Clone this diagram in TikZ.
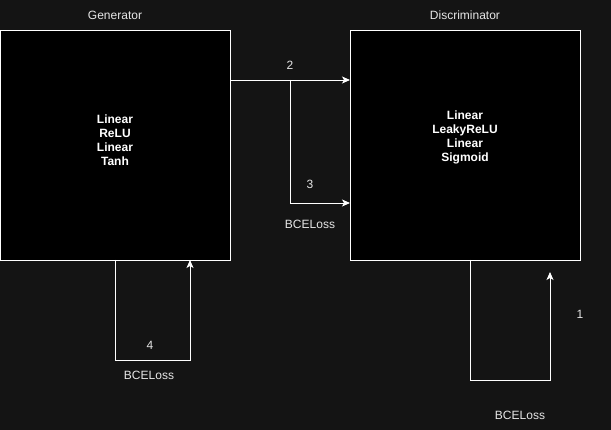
\documentclass[tikz,border=0pt]{standalone}
\usepackage{fontspec}
\setmainfont{Liberation Sans}
\usetikzlibrary{positioning,arrows.meta}
\definecolor{bg}{HTML}{141414}
\definecolor{txt}{HTML}{E6E6E6}
\tikzset{
  netbox/.style={rectangle, draw=white, fill=black, line width=0.9pt, minimum width=230pt, minimum height=230pt, inner sep=0pt, font=\fontsize{12}{14}\selectfont\bfseries, text=white, align=center},
  lbl/.style={text=txt, font=\fontsize{12}{14}\selectfont, inner sep=1pt},
  fwd/.style={draw=white, line width=0.9pt, -{Stealth[length=8pt, width=7pt, inset=2pt]}},
}

\begin{document}
\begin{tikzpicture}[x=1pt, y=-1pt]
  \fill[bg] (0,0) rectangle (611,430);
  \useasboundingbox (0,0) rectangle (611,430);

  % the two networks
  \node[netbox] (gen) at (115,145) {\raisebox{0pt}[0pt][0pt]{\begin{tabular}{@{}c@{}}Linear\\ReLU\\Linear\\Tanh\end{tabular}}};
  \node[netbox] (disc) at (465,145) {\raisebox{4.5pt}[0pt][0pt]{\begin{tabular}{@{}c@{}}Linear\\LeakyReLU\\Linear\\Sigmoid\end{tabular}}};
  \node[lbl] (gentitle) at (115,15) {Generator};
  \node[lbl] (disctitle) at (465,15) {Discriminator};

  % generator output to discriminator
  \coordinate (genout) at (230,80);
  \coordinate (discin) at (350,80);
  \coordinate (split) at (290,80);
  \coordinate (splitdown) at (290,203);
  \coordinate (discin2) at (350,203);
  \draw[fwd] (genout) -- (discin);
  \draw[fwd] (split) -- (splitdown) -- (discin2);
  \node[lbl] (lab2) at (290,65) {2};
  \node[lbl] (lab3) at (310,184) {3};
  \node[lbl] (loss3) at (310,224) {BCELoss};

  % generator loop
  \coordinate (gbotl) at (115,260);
  \coordinate (gloopl) at (115,360);
  \coordinate (gloopr) at (190,360);
  \coordinate (gbotr) at (190,260);
  \draw[fwd] (gbotl) -- (gloopl) -- (gloopr) -- (gbotr);
  \node[lbl] (lab4) at (150,345) {4};
  \node[lbl] (loss4) at (149,375) {BCELoss};

  % discriminator loop
  \coordinate (dbotl) at (470,260);
  \coordinate (dloopl) at (470,380);
  \coordinate (dloopr) at (550,380);
  \coordinate (dtip) at (550,272);
  \draw[fwd] (dbotl) -- (dloopl) -- (dloopr) -- (dtip);
  \node[lbl] (lab1) at (580,314) {1};
  \node[lbl] (loss1) at (520,415) {BCELoss};
\end{tikzpicture}
\end{document}
